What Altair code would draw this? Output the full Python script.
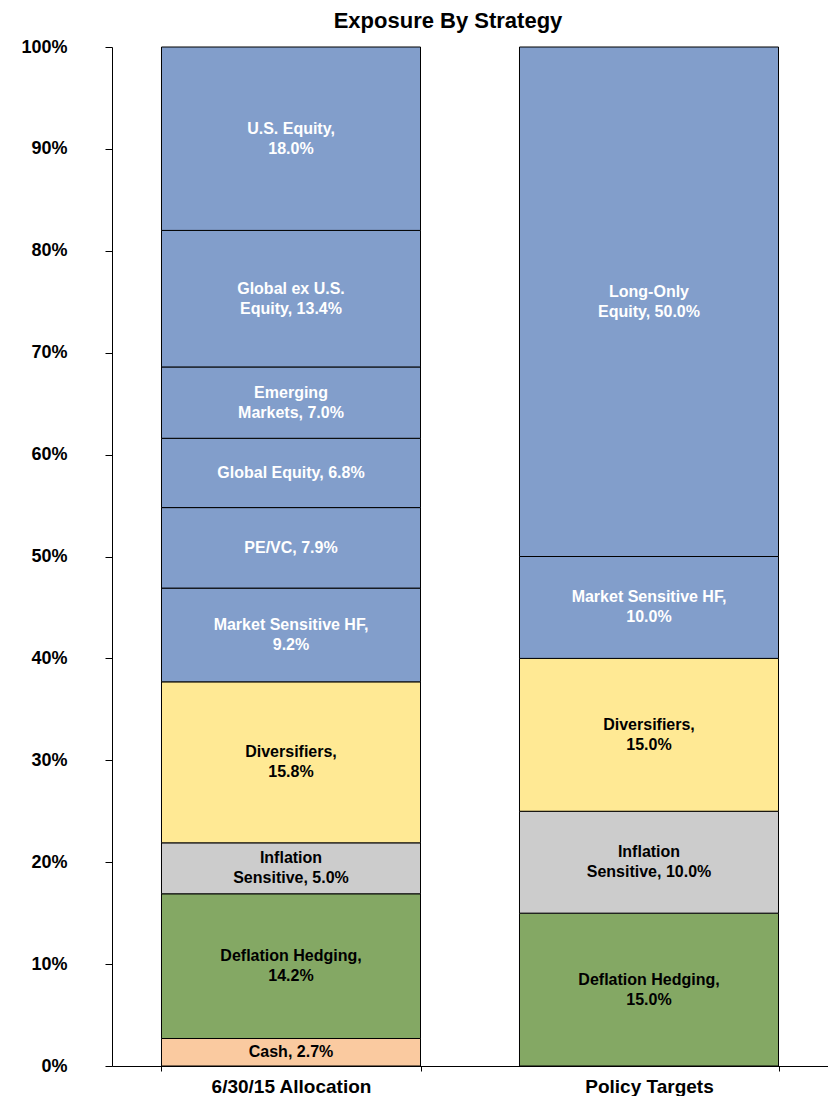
import altair as alt
import pandas as pd

categories = ["6/30/15 Allocation", "Policy Targets"]

left_names = ["Cash", "Deflation Hedging", "Inflation Sensitive", "Diversifiers",
              "Market Sensitive HF", "PE/VC", "Global Equity", "Emerging Markets",
              "Global ex U.S. Equity", "U.S. Equity"]
left_values = [2.7, 14.2, 5.0, 15.8, 9.2, 7.9, 6.8, 7.0, 13.4, 18.0]
left_text = ["Cash, 2.7%", "Deflation Hedging,\n14.2%", "Inflation\nSensitive, 5.0%",
             "Diversifiers,\n15.8%", "Market Sensitive HF,\n9.2%", "PE/VC, 7.9%",
             "Global Equity, 6.8%", "Emerging\nMarkets, 7.0%",
             "Global ex U.S.\nEquity, 13.4%", "U.S. Equity,\n18.0%"]

right_names = ["Deflation Hedging", "Inflation Sensitive", "Diversifiers",
               "Market Sensitive HF", "Long-Only Equity"]
right_values = [15.0, 10.0, 15.0, 10.0, 50.0]
right_text = ["Deflation Hedging,\n15.0%", "Inflation\nSensitive, 10.0%",
              "Diversifiers,\n15.0%", "Market Sensitive HF,\n10.0%",
              "Long-Only\nEquity, 50.0%"]

fill_colors = {"Cash": "#FACAA0", "Deflation Hedging": "#84A864",
               "Inflation Sensitive": "#CCCCCC", "Diversifiers": "#FFE994"}
blue = "#829ECB"

rows = []
for cat, names, vals, texts in [(categories[0], left_names, left_values, left_text),
                                (categories[1], right_names, right_values, right_text)]:
    for i, (n, v, t) in enumerate(zip(names, vals, texts)):
        fc = fill_colors.get(n, blue)
        rows.append({"cat": cat, "name": n, "v": v / 100.0, "label": t, "ord": i,
                     "fill": fc, "tcolor": "#FFFFFF" if fc == blue else "#000000",
                     "multi": "\n" in t})
df = pd.DataFrame(rows)

FONT = "Liberation Sans"

base = alt.Chart(df).transform_stack(
    stack="v", as_=["v0", "v1"], groupby=["cat"],
    sort=[alt.SortField("ord", order="ascending")]
).transform_calculate(mid="(datum.v0 + datum.v1) / 2")

xenc = alt.X("cat:N", sort=categories, title=None,
             scale=alt.Scale(paddingInner=0.2765, paddingOuter=0.13825),
             axis=alt.Axis(labelAngle=0, labelFont=FONT, labelFontSize=19,
                           labelFontWeight="bold", labelColor="#000000",
                           domainColor="#000000", tickColor="#000000",
                           tickSize=5, tickBand="extent", labelPadding=6))

bars = base.mark_bar(stroke="#000000", strokeWidth=1).encode(
    x=xenc,
    y=alt.Y("v0:Q", scale=alt.Scale(domain=[0, 1], nice=False), title=None,
            axis=alt.Axis(format=".0%", values=[i / 10 for i in range(11)],
                          grid=False, labelFont=FONT, labelFontSize=18,
                          labelFontWeight="bold", labelColor="#000000",
                          domainColor="#000000", tickColor="#000000",
                          tickSize=7, labelPadding=38)),
    y2="v1:Q",
    color=alt.Color("fill:N", scale=None),
)

text_enc = dict(
    x=alt.X("cat:N", sort=categories),
    y=alt.Y("mid:Q"),
    text="label:N",
    color=alt.Color("tcolor:N", scale=None),
)

labels_single = base.transform_filter("!datum.multi").mark_text(
    font=FONT, fontSize=16, fontWeight="bold", baseline="middle"
).encode(**text_enc)

labels_multi = base.transform_filter("datum.multi").mark_text(
    font=FONT, fontSize=16, fontWeight="bold", lineBreak="\n", lineHeight=20,
    baseline="middle", dy=-10
).encode(**text_enc)

chart = alt.layer(bars, labels_single, labels_multi).properties(
    width=716, height=1019,
    title=alt.TitleParams("Exposure By Strategy", font=FONT, fontSize=22,
                          fontWeight="bold", color="#000000", anchor="middle",
                          frame="group", dx=-22, offset=5),
    autosize=alt.AutoSizeParams(type="none"),
    padding={"left": 104, "top": 39, "right": 0, "bottom": 30},
).configure_view(stroke=None)

chart.save("out.html", embed_options={"renderer": "svg", "actions": False})
